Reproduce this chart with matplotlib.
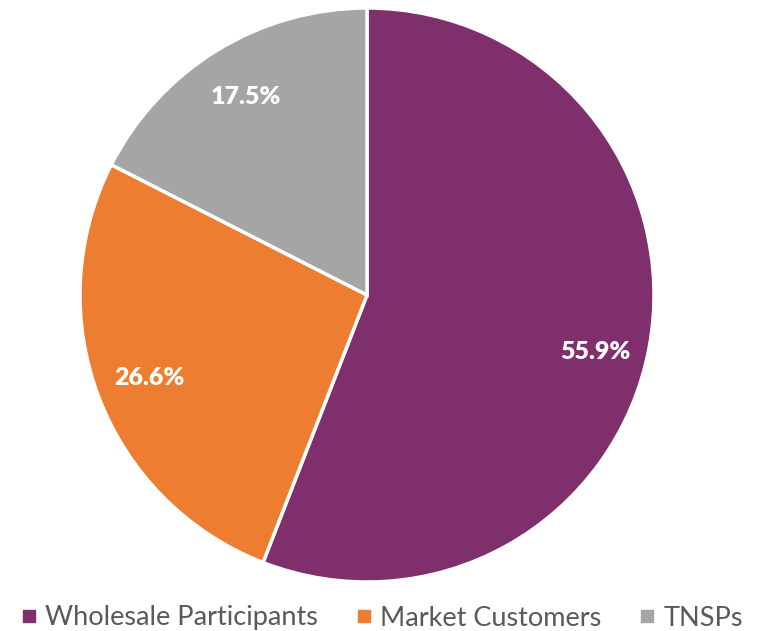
import matplotlib
matplotlib.use("Agg")
import matplotlib.pyplot as plt
from matplotlib.lines import Line2D

categories = ["Wholesale Participants", "Market Customers", "TNSPs"]
values = [55.9, 26.6, 17.5]
colors = ["#7E2F6C", "#ED7D31", "#A5A5A5"]

plt.rcParams['font.family'] = ['Lato', 'DejaVu Sans']

W, H = 761, 631
fig = plt.figure(figsize=(W/100, H/100), dpi=100)
cx, cy, r = 367, 336, 287
ax = fig.add_axes([(cx - r)/W, (cy - r)/H, 2*r/W, 2*r/H])
wedges, texts, autotexts = ax.pie(values, colors=colors, startangle=90, counterclock=False,
       autopct='%.1f%%', pctdistance=0.81,
       wedgeprops=dict(edgecolor='white', linewidth=2.5),
       textprops=dict(color='white', fontsize=18, fontweight='heavy'))
# Nudge the largest label slightly lower, as in the reference
x0, y0 = autotexts[0].get_position()
autotexts[0].set_position((x0, y0 - 0.05))
ax.set_xlim(-1.0, 1.0)
ax.set_ylim(-1.0, 1.0)
ax.set_aspect('equal')

handles = [Line2D([0], [0], marker='s', linestyle='none', markersize=8,
                  markerfacecolor=c, markeredgecolor=c) for c in colors]
leg = fig.legend(handles, categories, loc='center', bbox_to_anchor=(0.5, 1 - 618/H),
                 ncol=3, frameon=False, fontsize=19.5, handletextpad=0.2,
                 columnspacing=1.3, handlelength=0.8)
for t in leg.get_texts():
    t.set_color('#595959')

fig.savefig("out.png", dpi=100)
